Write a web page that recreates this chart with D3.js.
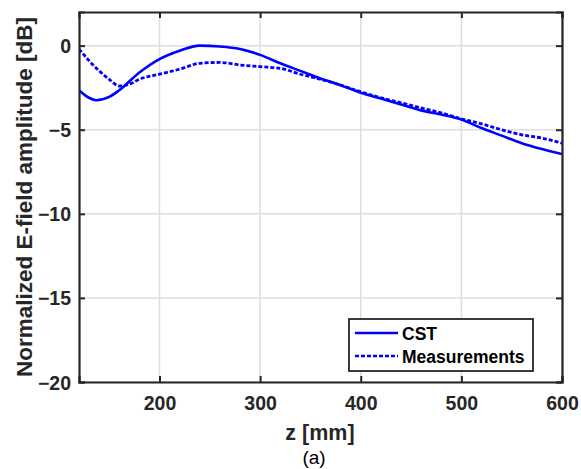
<!DOCTYPE html>
<html><head><meta charset="utf-8">
<script src="https://cdn.jsdelivr.net/npm/d3@7"></script>
<style>body{margin:0;background:#fff}svg{display:block}text{font-family:"Liberation Sans",Arial,sans-serif}</style>
</head><body>
<script>
const xTicks = [200, 300, 400, 500, 600];
const yTicks = [0, -5, -10, -15, -20];
const cstZ = [120,130,137,150,160,180,200,220,240,260,280,300,320,340,360,380,400,420,440,460,480,500,520,540,560,580,600];
const cstV = [-2.65,-3.1,-3.25,-3.05,-2.65,-1.6,-0.8,-0.3,0,-0.05,-0.2,-0.55,-1.05,-1.5,-1.95,-2.35,-2.8,-3.15,-3.5,-3.85,-4.1,-4.4,-4.9,-5.35,-5.8,-6.15,-6.45];
const measZ = [120,130,140,150,160,170,180,200,220,240,260,280,300,320,340,360,380,400,420,440,460,480,500,520,540,560,580,600];
const measV = [-0.2,-0.9,-1.5,-2.0,-2.4,-2.3,-2.0,-1.7,-1.4,-1.05,-1.0,-1.15,-1.25,-1.35,-1.7,-2.0,-2.35,-2.75,-3.1,-3.4,-3.7,-4.0,-4.35,-4.65,-5.0,-5.3,-5.5,-5.8];
const seriesNames = ["CST", "Measurements"];

const W = 581, H = 469;
const L = 79, R = 562, T = 12, B = 382;
const svg = d3.select("body").append("svg").attr("width", W).attr("height", H);
const x = d3.scaleLinear().domain([120, 600]).range([L, R]);
const y = d3.scaleLinear().domain([-20, 2]).range([B, T]);
const axisCol = "#262626";

// grid
svg.append("g").selectAll("line").data(xTicks).join("line")
  .attr("x1", d => x(d)).attr("x2", d => x(d)).attr("y1", T).attr("y2", B)
  .attr("stroke", "#dedede").attr("stroke-width", 1.5);
svg.append("g").selectAll("line").data(yTicks).join("line")
  .attr("y1", d => y(d)).attr("y2", d => y(d)).attr("x1", L).attr("x2", R)
  .attr("stroke", "#dedede").attr("stroke-width", 1.5);

// lines
const line = d3.line().x(d => x(d[0])).y(d => y(d[1])).curve(d3.curveMonotoneX);
svg.append("clipPath").attr("id","c").append("rect").attr("x",L).attr("y",T).attr("width",R-L).attr("height",B-T);
svg.append("path").attr("d", line(cstZ.map((z,i)=>[z,cstV[i]]))).attr("fill","none")
  .attr("stroke","#0000ff").attr("stroke-width",2.6).attr("clip-path","url(#c)");
svg.append("path").attr("d", line(measZ.map((z,i)=>[z,measV[i]]))).attr("fill","none")
  .attr("stroke","#0000ff").attr("stroke-width",2.8).attr("stroke-dasharray","4,2").attr("clip-path","url(#c)");

// axes
const fnt = 'font-weight:bold;font-size:19.5px';
const xb = svg.append("g").attr("transform", `translate(0,${B})`)
  .call(d3.axisBottom(x).tickValues(xTicks).tickSize(-6).tickPadding(14).tickFormat(d3.format("d")));
const xt = svg.append("g").attr("transform", `translate(0,${T})`)
  .call(d3.axisTop(x).tickValues(xTicks).tickSize(-6).tickFormat(""));
const yl = svg.append("g").attr("transform", `translate(${L},0)`)
  .call(d3.axisLeft(y).tickValues(yTicks).tickSize(-6).tickPadding(8).tickFormat(d3.format("d")));
const yr = svg.append("g").attr("transform", `translate(${R},0)`)
  .call(d3.axisRight(y).tickValues(yTicks).tickSize(-6).tickFormat(""));
[xb, xt, yl, yr].forEach(g => {
  g.select(".domain").attr("stroke", axisCol).attr("stroke-width", 2.2);
  g.selectAll(".tick line").attr("stroke", axisCol).attr("stroke-width", 2);
  g.selectAll(".tick text").attr("fill", axisCol).attr("style", fnt + ';font-family:"Liberation Sans",Arial,sans-serif');
});
yl.selectAll(".tick text").attr("dy", "0.36em");

// axis labels
svg.append("text").attr("x", 320).attr("y", 440).attr("text-anchor", "middle")
  .attr("fill", axisCol).style("font-weight","bold").style("font-size","21.5px").text("z [mm]");
svg.append("text").attr("transform", "translate(32,197) rotate(-90)").attr("text-anchor", "middle")
  .attr("fill", axisCol).style("font-weight","bold").style("font-size","22.5px").text("Normalized E-field amplitude [dB]");
svg.append("text").attr("x", 314).attr("y", 464).attr("text-anchor", "middle")
  .attr("fill", "#000").style("font-size","19px").text("(a)");

// legend
const lg = svg.append("g");
lg.append("rect").attr("x", 349).attr("y", 319).attr("width", 184).attr("height", 52)
  .attr("fill", "#fff").attr("stroke", axisCol).attr("stroke-width", 1.8);
const ly = [333, 356];
seriesNames.forEach((n, i) => {
  lg.append("line").attr("x1", 355).attr("x2", 398).attr("y1", ly[i]).attr("y2", ly[i])
    .attr("stroke", "#0000ff").attr("stroke-width", 2.6).attr("stroke-dasharray", i ? "4,2" : null);
  lg.append("text").attr("x", 402).attr("y", ly[i] + 6.5).attr("fill", "#000")
    .style("font-weight","bold").style("font-size","17.5px").text(n);
});
</script>
</body></html>
